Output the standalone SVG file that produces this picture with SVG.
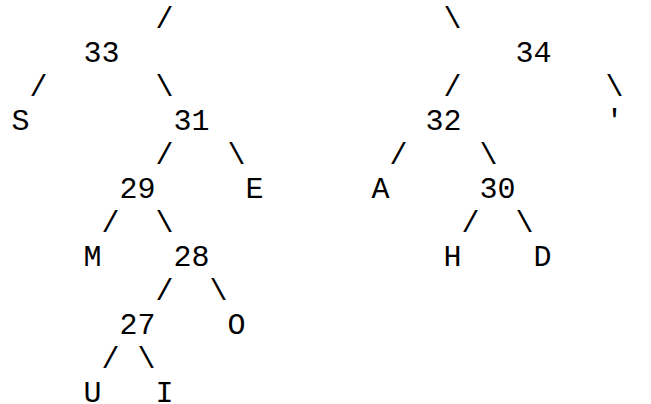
<svg xmlns="http://www.w3.org/2000/svg" width="651" height="404" viewBox="0 0 651 404">
<style>
text{font-family:"Liberation Mono","Courier New",monospace;font-size:30px;fill:#000;white-space:pre}
</style>
<rect width="651" height="404" fill="#fff"/>
<g id="connectors">
<text x="155.5" y="28">/</text>
<text x="443.5" y="28">\</text>
<text x="29.5" y="96">/</text>
<text x="155.5" y="96">\</text>
<text x="443.5" y="96">/</text>
<text x="605.5" y="96">\</text>
<text x="155.5" y="164">/</text>
<text x="227.5" y="164">\</text>
<text x="389.5" y="164">/</text>
<text x="479.5" y="164">\</text>
<text x="101.5" y="232">/</text>
<text x="155.5" y="232">\</text>
<text x="461.5" y="232">/</text>
<text x="515.5" y="232">\</text>
<text x="155.5" y="300">/</text>
<text x="209.5" y="300">\</text>
<text x="101.5" y="368">/</text>
<text x="137.5" y="368">\</text>
</g>
<g id="n33"><text x="83.5" y="62">33</text></g>
<g id="n34"><text x="515.5" y="62">34</text></g>
<g id="nS"><text x="11.5" y="130">S</text></g>
<g id="n31"><text x="173.5" y="130">31</text></g>
<g id="n32"><text x="425.5" y="130">32</text></g>
<g id="nApos"><text x="605.5" y="130">'</text></g>
<g id="n29"><text x="119.5" y="198">29</text></g>
<g id="nE"><text x="245.5" y="198">E</text></g>
<g id="nA"><text x="371.5" y="198">A</text></g>
<g id="n30"><text x="479.5" y="198">30</text></g>
<g id="nM"><text x="83.5" y="266">M</text></g>
<g id="n28"><text x="173.5" y="266">28</text></g>
<g id="nH"><text x="443.5" y="266">H</text></g>
<g id="nD"><text x="533.5" y="266">D</text></g>
<g id="n27"><text x="119.5" y="334">27</text></g>
<g id="nO"><text x="227.5" y="334">O</text></g>
<g id="nU"><text x="83.5" y="402">U</text></g>
<g id="nI"><text x="155.5" y="402">I</text></g>
</svg>
